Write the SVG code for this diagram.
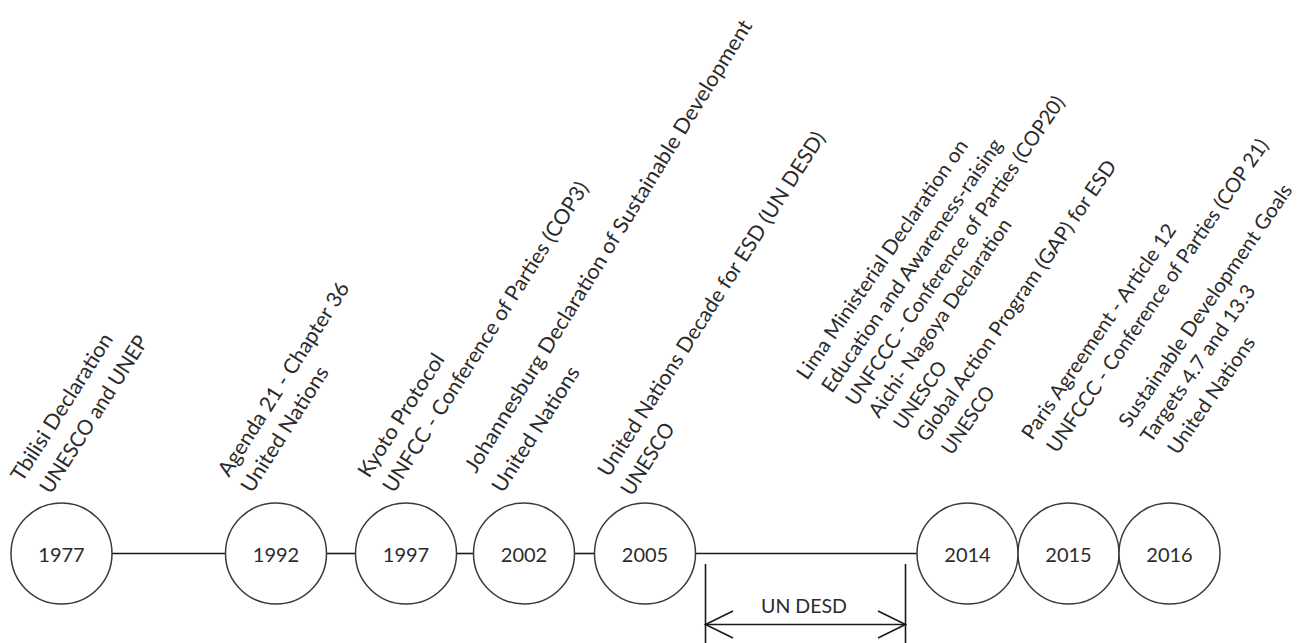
<svg xmlns="http://www.w3.org/2000/svg" width="1308" height="643" viewBox="0 0 1308 643">
<style>
  .bg{fill:#ffffff}
  .c{fill:#ffffff;stroke:#3a3a3a;stroke-width:1.5}
  .yr{font-family:Lato,"Liberation Sans",Arial,sans-serif;font-size:20px;fill:#2b2b2b;text-anchor:middle}
  .lb{font-family:Lato,"Liberation Sans",Arial,sans-serif;font-size:21px;fill:#2b2b2b}
  .rb{font-family:Lato,"Liberation Sans",Arial,sans-serif;font-size:20.2px;fill:#2b2b2b}
  .ln{stroke:#1a1a1a;stroke-width:1.6;fill:none}
  .dl{font-family:Lato,"Liberation Sans",Arial,sans-serif;font-size:20px;fill:#2b2b2b;text-anchor:middle}
</style>
<rect class="bg" x="0" y="0" width="1308" height="643"/>
<g id="connectors">
  <line class="ln" x1="112" y1="553.5" x2="226" y2="553.5"/>
  <line class="ln" x1="326" y1="553.5" x2="356" y2="553.5"/>
  <line class="ln" x1="456" y1="553.5" x2="474" y2="553.5"/>
  <line class="ln" x1="574" y1="553.5" x2="595" y2="553.5"/>
  <line class="ln" x1="695" y1="553.5" x2="917" y2="553.5"/>
</g>
<g id="un-desd">
  <line class="ln" x1="705.5" y1="564" x2="705.5" y2="643"/>
  <line class="ln" x1="905.5" y1="564" x2="905.5" y2="643"/>
  <line class="ln" x1="705.5" y1="624.5" x2="905.5" y2="624.5"/>
  <polyline class="ln" points="733,611 705.5,624.5 733,638"/>
  <polyline class="ln" points="878,611 905.5,624.5 878,638"/>
  <text class="dl" x="804" y="613" textLength="86" lengthAdjust="spacingAndGlyphs">UN DESD</text>
</g>
<g id="n1977">
  <circle class="c" cx="61.5" cy="553.5" r="50.5"/>
  <text class="yr" x="61.5" y="562">1977</text>
  <text class="lb" transform="translate(22,483) rotate(-57.5)" textLength="170.7" lengthAdjust="spacingAndGlyphs">Tbilisi Declaration</text>
  <text class="lb" transform="translate(51,495) rotate(-57.5)" textLength="182.3" lengthAdjust="spacingAndGlyphs">UNESCO and UNEP</text>
</g>
<g id="n1992">
  <circle class="c" cx="276" cy="553.5" r="50.5"/>
  <text class="yr" x="276" y="562">1992</text>
  <text class="lb" transform="translate(229,478) rotate(-57.5)" textLength="225.6" lengthAdjust="spacingAndGlyphs">Agenda 21 - Chapter 36</text>
  <text class="lb" transform="translate(252,494) rotate(-57.5)" textLength="144.5" lengthAdjust="spacingAndGlyphs">United Nations</text>
</g>
<g id="n1997">
  <circle class="c" cx="406" cy="553.5" r="50.5"/>
  <text class="yr" x="406" y="562">1997</text>
  <text class="lb" transform="translate(369,479) rotate(-57.5)" textLength="142.1" lengthAdjust="spacingAndGlyphs">Kyoto Protocol</text>
  <text class="lb" transform="translate(394,494) rotate(-57.5)" textLength="363.4" lengthAdjust="spacingAndGlyphs">UNFCC - Conference of Parties (COP3)</text>
</g>
<g id="n2002">
  <circle class="c" cx="524" cy="553.5" r="50.5"/>
  <text class="yr" x="524" y="562">2002</text>
  <text class="lb" transform="translate(476,474) rotate(-58.3)" textLength="527" lengthAdjust="spacingAndGlyphs">Johannesburg Declaration of Sustainable Development</text>
  <text class="lb" transform="translate(503,494) rotate(-57.5)" textLength="144.5" lengthAdjust="spacingAndGlyphs">United Nations</text>
</g>
<g id="n2005">
  <circle class="c" cx="645" cy="553.5" r="50.5"/>
  <text class="yr" x="645" y="562">2005</text>
  <text class="lb" transform="translate(609,478) rotate(-57.5)" textLength="403.9" lengthAdjust="spacingAndGlyphs">United Nations Decade for ESD (UN DESD)</text>
  <text class="lb" transform="translate(632,497) rotate(-57.5)" textLength="81.2" lengthAdjust="spacingAndGlyphs">UNESCO</text>
</g>
<g id="n2014">
  <circle class="c" cx="967.5" cy="553.5" r="50.5"/>
  <text class="yr" x="967.5" y="562">2014</text>
  <text class="rb" transform="translate(807,381) rotate(-55.5)" textLength="285.6" lengthAdjust="spacingAndGlyphs">Lima Ministerial Declaration on</text>
  <text class="rb" transform="translate(832,394) rotate(-55.5)" textLength="302.4" lengthAdjust="spacingAndGlyphs">Education and Awareness-raising</text>
  <text class="rb" transform="translate(856,407) rotate(-55.5)" textLength="369.9" lengthAdjust="spacingAndGlyphs">UNFCCC - Conference of Parties (COP20)</text>
  <text class="rb" transform="translate(879,419) rotate(-55.5)" textLength="235.9" lengthAdjust="spacingAndGlyphs">Aichi- Nagoya Declaration</text>
  <text class="rb" transform="translate(904,431) rotate(-55.5)" textLength="77.4" lengthAdjust="spacingAndGlyphs">UNESCO</text>
  <text class="rb" transform="translate(927,443) rotate(-55.5)" textLength="336" lengthAdjust="spacingAndGlyphs">Global Action Program (GAP) for ESD</text>
  <text class="rb" transform="translate(952,456) rotate(-55.5)" textLength="77.4" lengthAdjust="spacingAndGlyphs">UNESCO</text>
</g>
<g id="n2015">
  <circle class="c" cx="1068.5" cy="553.5" r="50.5"/>
  <text class="yr" x="1068.5" y="562">2015</text>
  <text class="rb" transform="translate(1032,441) rotate(-55.5)" textLength="256.1" lengthAdjust="spacingAndGlyphs">Paris Agreement - Article 12</text>
  <text class="rb" transform="translate(1057,454) rotate(-55.5)" textLength="374.9" lengthAdjust="spacingAndGlyphs">UNFCCC - Conference of Parties (COP 21)</text>
</g>
<g id="n2016">
  <circle class="c" cx="1169.5" cy="553.5" r="50.5"/>
  <text class="yr" x="1169.5" y="562">2016</text>
  <text class="rb" transform="translate(1129,429) rotate(-55.5)" textLength="289.9" lengthAdjust="spacingAndGlyphs">Sustainable Development Goals</text>
  <text class="rb" transform="translate(1151,444) rotate(-55.5)" textLength="185.8" lengthAdjust="spacingAndGlyphs">Targets 4.7 and 13.3</text>
  <text class="rb" transform="translate(1178,456) rotate(-55.5)" textLength="137.8" lengthAdjust="spacingAndGlyphs">United Nations</text>
</g>
</svg>
